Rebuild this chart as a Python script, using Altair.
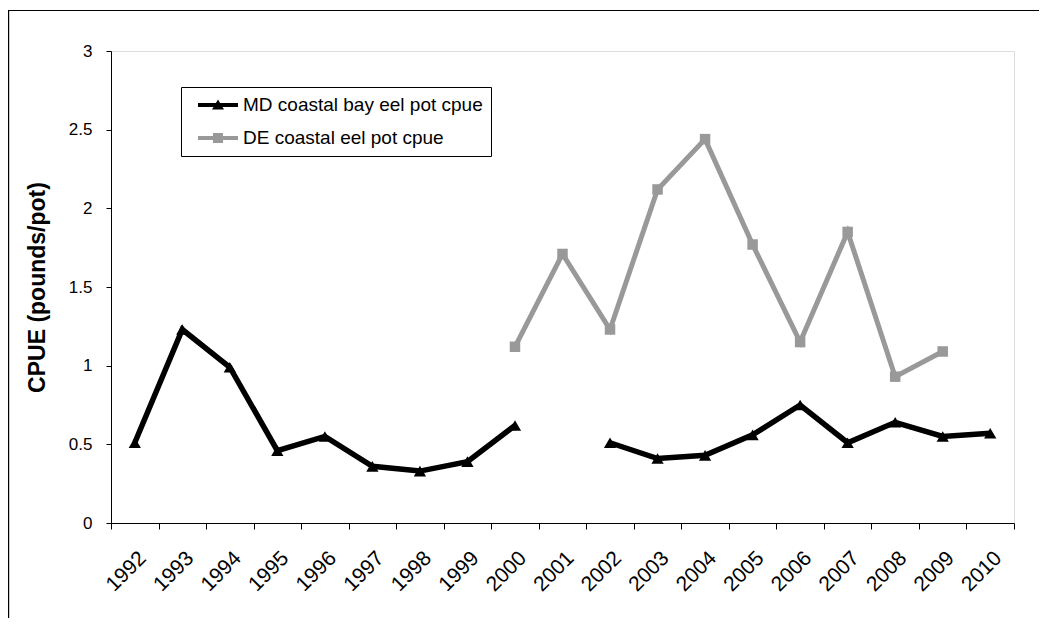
import altair as alt
import pandas as pd

years = [str(y) for y in range(1992, 2011)]
md_label = "MD coastal bay eel pot cpue"
de_label = "DE coastal eel pot cpue"
md_values = [0.51, 1.23, 0.99, 0.46, 0.55, 0.36, 0.33, 0.39, 0.62, None,
             0.51, 0.41, 0.43, 0.56, 0.75, 0.51, 0.64, 0.55, 0.57]
de_values = [None, None, None, None, None, None, None, None, 1.12, 1.71,
             1.23, 2.12, 2.44, 1.77, 1.15, 1.85, 0.93, 1.09, None]

def frame(values, name):
    rows, seg = [], 0
    for y, v in zip(years, values):
        if v is None:
            seg += 1
            continue
        rows.append({"year": y, "cpue": v, "series": name, "seg": seg})
    return pd.DataFrame(rows)

md = frame(md_values, md_label)
de = frame(de_values, de_label)
both = pd.concat([md, de], ignore_index=True)

FONT = "Liberation Sans"
W, H = 903, 472

x_enc = alt.X(
    "year:O",
    bandPosition=0.5,
    scale=alt.Scale(type="band", domain=years, paddingInner=0, paddingOuter=0),
    axis=alt.Axis(
        title=None, tickBand="extent", labelAngle=-45, labelFontSize=21,
        labelFont=FONT, labelColor="black", labelPadding=18, tickSize=6,
        tickColor="black", domainColor="black", grid=False,
    ),
)
y_enc = alt.Y(
    "cpue:Q",
    scale=alt.Scale(domain=[0, 3], nice=False, zero=True),
    axis=alt.Axis(
        title="CPUE (pounds/pot)", values=[0, 0.5, 1, 1.5, 2, 2.5, 3], format="~g",
        labelFontSize=17, labelFont=FONT, labelColor="black", labelPadding=14,
        tickSize=5, tickColor="black", domainColor="black", grid=False,
        titleFont=FONT, titleFontSize=23, titleFontWeight="bold",
        titleColor="black", titlePadding=19,
    ),
)

md_line = alt.Chart(md).mark_line(color="black", strokeWidth=5.5).encode(
    x=x_enc, y=y_enc, detail="seg:N")
md_pts = alt.Chart(md).mark_point(shape="triangle-up", filled=True, color="black",
                                  size=150, opacity=1).encode(x=x_enc, y=y_enc)
de_line = alt.Chart(de).mark_line(color="#999999", strokeWidth=5).encode(
    x=x_enc, y=y_enc)
de_pts = alt.Chart(de).mark_point(shape="square", filled=True, color="#999999",
                                  size=110, opacity=1).encode(x=x_enc, y=y_enc)

md_sym = "M-0.1,-0.2L3.9,-0.2L3.9,0.2L-0.1,0.2Z M1.3,0.45L1.9,-0.55L2.5,0.45Z"
de_sym = "M-0.1,-0.2L3.9,-0.2L3.9,0.2L-0.1,0.2Z M1.4,-0.5L2.4,-0.5L2.4,0.5L1.4,0.5Z"

leg = alt.Legend(
    orient="none", legendX=70, legendY=36, padding=8, rowPadding=13,
    symbolSize=400, symbolOpacity=1, symbolStrokeWidth=0, labelOffset=34,
    labelFont=FONT, labelFontSize=19, labelColor="black", labelLimit=500,
    strokeColor="black", fillColor="white",
)
legend_layer = alt.Chart(both).mark_point(filled=True, opacity=0).encode(
    x=x_enc, y=y_enc,
    color=alt.Color("series:N", title=None, legend=leg,
                    scale=alt.Scale(domain=[md_label, de_label], range=["black", "#999999"])),
    shape=alt.Shape("series:N", title=None, legend=leg,
                    scale=alt.Scale(domain=[md_label, de_label], range=[md_sym, de_sym])),
)

border = alt.Chart(pd.DataFrame({"a": [0]})).mark_rect(
    fillOpacity=0, stroke="black", strokeWidth=1.2).encode(
    x=alt.value(-102.4), x2=alt.value(1100), y=alt.value(-40.5), y2=alt.value(800))

chart = alt.layer(border, de_line, md_line, de_pts, md_pts, legend_layer).properties(
    width=W, height=H,
    padding={"left": 103, "top": 43, "right": 25, "bottom": 95},
    autosize=alt.AutoSizeParams(type="none"),
).configure_view(stroke=None).configure(background="white")

chart.save("out.html", embed_options={"renderer": "svg", "actions": False})
